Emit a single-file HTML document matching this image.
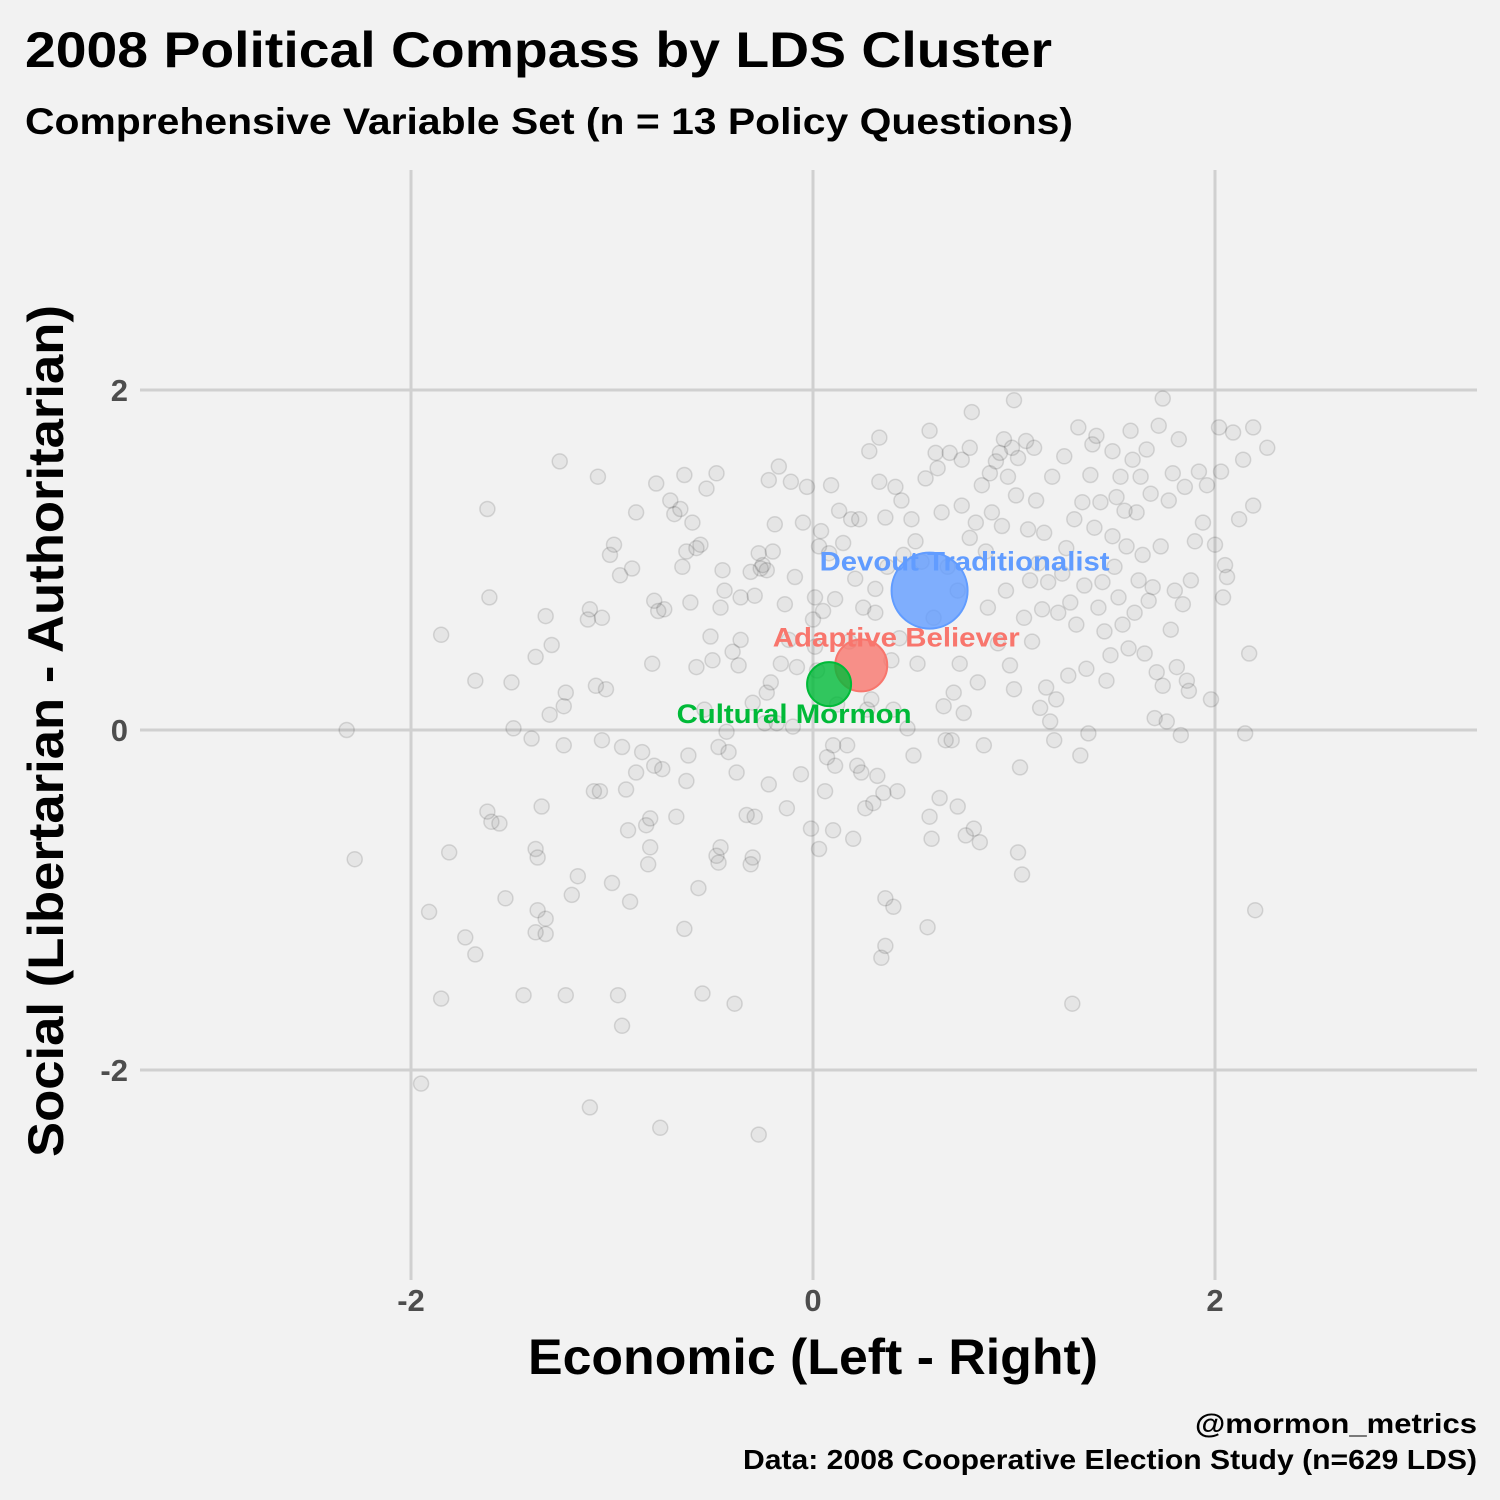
<!DOCTYPE html>
<html><head><meta charset="utf-8"><style>
html,body{margin:0;padding:0;background:#f2f2f2;}
svg{display:block;}
text{font-family:"Liberation Sans",sans-serif;}
</style></head><body>
<svg id="chart" width="1500" height="1500" viewBox="0 0 1500 1500">
<rect x="0" y="0" width="1500" height="1500" fill="#f2f2f2"/>
<text x="25" y="67" font-size="50" font-weight="bold" fill="#000" textLength="1027" lengthAdjust="spacingAndGlyphs">2008 Political Compass by LDS Cluster</text>
<text x="25" y="134" font-size="37" font-weight="bold" fill="#000" textLength="1048" lengthAdjust="spacingAndGlyphs">Comprehensive Variable Set (n = 13 Policy Questions)</text>
<g id="grid"></g>
<g id="ticks"></g>
<g id="points"></g>
<g id="clusters"></g>
<text x="813" y="1374" font-size="50" font-weight="bold" fill="#000" text-anchor="middle" textLength="570" lengthAdjust="spacingAndGlyphs">Economic (Left - Right)</text>
<text transform="translate(63,731) rotate(-90)" font-size="50" font-weight="bold" fill="#000" text-anchor="middle" textLength="852" lengthAdjust="spacingAndGlyphs">Social (Libertarian - Authoritarian)</text>
<text x="1477" y="1433" font-size="28" font-weight="bold" fill="#000" text-anchor="end" textLength="282" lengthAdjust="spacingAndGlyphs">@mormon_metrics</text>
<text x="1477" y="1469" font-size="28" font-weight="bold" fill="#000" text-anchor="end" textLength="734" lengthAdjust="spacingAndGlyphs">Data: 2008 Cooperative Election Study (n=629 LDS)</text>
</svg>
<script>
const xTicks = [-2, 0, 2];
const yTicks = [-2, 0, 2];
const clusterNames = ["Devout Traditionalist", "Adaptive Believer", "Cultural Mormon"];
const clusterX = [0.58, 0.24, 0.08];
const clusterY = [0.82, 0.38, 0.27];
const clusterSize = [38, 26, 22];
const clusterColors = ["#619CFF", "#F8766D", "#00BA38"];
const pointX = [-2.32,-2.28,-1.95,-1.91,-1.85,-1.85,-1.81,-1.73,-1.68,-1.68,-1.62,-1.61,-1.62,-1.60,-1.56,-1.53,-1.50,-1.49,-1.44,-1.40,-1.38,-1.38,-1.37,-1.37,-1.38,-1.35,-1.33,-1.33,-1.33,-1.31,-1.30,-1.26,-1.24,-1.24,-1.23,-1.23,-1.20,-1.17,-1.12,-1.11,-1.11,-1.09,-1.07,-1.06,-1.05,-1.08,-1.05,-1.03,-1.01,-0.99,-1.00,-0.97,-0.96,-0.95,-0.95,-0.93,-0.92,-0.91,-0.90,-0.88,-0.88,-0.85,-0.83,-0.82,-0.81,-0.81,-0.79,-0.79,-0.80,-0.78,-0.77,-0.76,-0.75,-0.74,-0.71,-0.69,-0.68,-0.66,-0.64,-0.64,-0.65,-0.63,-0.62,-0.63,-0.61,-0.60,-0.58,-0.58,-0.57,-0.56,-0.55,-0.54,-0.53,-0.51,-0.50,-0.48,-0.47,-0.48,-0.47,-0.46,-0.46,-0.45,-0.44,-0.43,-0.42,-0.40,-0.39,-0.38,-0.37,-0.36,-0.36,-0.33,-0.31,-0.30,-0.31,-0.30,-0.29,-0.29,-0.27,-0.27,-0.26,-0.25,-0.24,-0.23,-0.23,-0.22,-0.22,-0.21,-0.20,-0.19,-0.18,-0.17,-0.16,-0.14,-0.13,-0.12,-0.11,-0.10,-0.09,-0.08,-0.06,-0.05,-0.03,-0.01,0.00,0.01,0.01,0.02,0.03,0.03,0.04,0.05,0.06,0.07,0.08,0.09,0.10,0.10,0.11,0.11,0.12,0.13,0.15,0.17,0.18,0.19,0.20,0.21,0.22,0.23,0.24,0.25,0.26,0.27,0.28,0.29,0.30,0.31,0.31,0.32,0.33,0.33,0.34,0.35,0.36,0.36,0.36,0.37,0.39,0.40,0.40,0.41,0.42,0.43,0.44,0.45,0.47,0.49,0.50,0.51,0.52,0.54,0.56,0.57,0.58,0.58,0.59,0.60,0.61,0.62,0.63,0.64,0.65,0.66,0.67,0.68,0.69,0.70,0.72,0.72,0.73,0.74,0.74,0.75,0.76,0.78,0.78,0.79,0.80,0.81,0.82,0.83,0.84,0.85,0.86,0.87,0.88,0.89,0.91,0.92,0.93,0.94,0.95,0.96,0.97,0.98,0.99,1.00,1.00,1.01,1.02,1.02,1.03,1.04,1.05,1.06,1.07,1.08,1.09,1.10,1.11,1.12,1.13,1.14,1.15,1.16,1.17,1.18,1.19,1.20,1.21,1.22,1.24,1.25,1.26,1.27,1.28,1.29,1.30,1.31,1.32,1.33,1.34,1.35,1.36,1.37,1.38,1.39,1.40,1.41,1.42,1.43,1.44,1.45,1.46,1.48,1.49,1.49,1.50,1.51,1.52,1.53,1.54,1.55,1.56,1.57,1.58,1.59,1.60,1.61,1.62,1.63,1.64,1.65,1.66,1.67,1.68,1.69,1.70,1.71,1.72,1.73,1.74,1.74,1.76,1.77,1.78,1.79,1.80,1.81,1.82,1.83,1.84,1.85,1.86,1.87,1.88,1.90,1.92,1.94,1.96,1.98,2.00,2.02,2.03,2.04,2.05,2.06,2.09,2.12,2.14,2.15,2.17,2.19,2.19,2.20,2.26];
const pointY = [0.00,-0.76,-2.08,-1.07,-1.58,0.56,-0.72,-1.22,-1.32,0.29,1.30,0.78,-0.48,-0.54,-0.55,-0.99,0.28,0.01,-1.56,-0.05,0.43,-0.70,-0.75,-1.06,-1.19,-0.45,0.67,-1.20,-1.11,0.09,0.50,1.58,0.14,-0.09,0.22,-1.56,-0.97,-0.86,0.65,0.71,-2.22,-0.36,1.49,-0.36,0.66,0.26,-0.06,0.24,1.03,1.09,-0.90,-1.56,0.91,-1.74,-0.10,-0.35,-0.59,-1.01,0.95,1.28,-0.25,-0.13,-0.56,-0.79,-0.69,-0.52,-0.21,0.76,0.39,1.45,0.70,-2.34,-0.23,0.71,1.35,1.27,-0.51,1.30,-1.17,1.50,0.96,1.05,-0.15,-0.30,0.75,1.22,1.07,0.37,-0.93,1.09,-1.55,0.12,1.42,0.55,0.41,1.51,-0.78,-0.74,-0.10,-0.69,0.72,0.94,0.82,-0.01,-0.13,0.46,-1.61,-0.25,0.38,0.78,0.53,-0.50,-0.79,-0.75,0.93,0.16,-0.51,0.79,-2.38,1.04,0.95,0.97,0.04,0.22,0.94,-0.32,1.47,0.28,1.05,1.21,0.04,1.55,0.39,0.74,-0.46,0.53,1.46,0.02,0.90,0.37,-0.26,1.22,1.43,-0.58,0.65,0.49,0.78,0.35,-0.70,1.08,1.17,0.70,-0.36,-0.16,1.04,1.44,-0.59,-0.09,-0.21,0.77,0.15,1.29,1.10,-0.09,0.52,1.24,-0.64,0.89,-0.21,1.24,-0.25,0.72,-0.46,0.12,1.64,0.18,-0.43,0.83,0.69,-0.27,1.72,1.46,-1.34,-0.37,1.25,-0.99,-1.27,0.96,0.41,-1.04,0.12,1.43,-0.36,0.54,1.35,1.03,0.01,1.24,-0.15,1.11,0.39,0.99,1.48,-1.16,-0.51,1.76,-0.64,0.66,1.63,1.54,-0.40,1.28,0.14,-0.06,0.96,1.63,-0.06,0.22,-0.45,0.82,0.39,1.32,1.59,0.10,-0.62,1.66,1.13,1.87,-0.58,1.22,0.28,-0.66,1.44,-0.09,1.05,0.72,1.51,1.28,1.58,0.51,1.63,1.20,1.71,0.82,1.49,0.38,1.66,0.24,1.94,1.38,-0.72,1.60,-0.22,-0.85,0.66,1.70,1.18,0.88,0.52,1.66,1.35,0.98,0.13,0.71,1.16,0.25,0.87,0.05,1.49,-0.06,0.18,0.69,0.92,1.61,1.07,0.32,0.75,-1.61,1.24,0.62,1.78,-0.15,1.34,0.85,0.36,-0.02,1.50,1.68,1.19,1.73,0.72,1.34,0.87,0.58,0.29,0.44,1.64,1.14,0.96,1.37,0.78,1.49,0.62,1.29,1.08,0.48,1.76,1.59,0.69,1.28,0.88,1.49,1.03,0.45,1.65,0.76,1.39,0.84,0.07,0.34,1.79,1.08,0.26,1.95,0.05,1.35,0.59,1.51,0.82,0.37,1.71,-0.03,0.74,1.43,0.29,0.23,0.88,1.11,1.52,1.22,1.44,0.18,1.09,1.78,1.52,0.78,0.97,0.90,1.75,1.24,1.59,-0.02,0.45,1.78,1.32,-1.06,1.66];

const NS = "http://www.w3.org/2000/svg";
const L = 140, R = 1477, T = 170, B = 1280;
function sx(v){ return 813 + v * 201; }
function sy(v){ return 730 - v * 170; }
function mk(tag, attrs, parent){ const e = document.createElementNS(NS, tag); for (const k in attrs) e.setAttribute(k, attrs[k]); parent.appendChild(e); return e; }

const grid = document.getElementById('grid');
const ticks = document.getElementById('ticks');
xTicks.forEach(function(t){
  const ln = mk('line', {x1: sx(t), x2: sx(t), y1: T, y2: B, stroke: '#d0d0d0', 'stroke-width': 3}, grid);
  
  
  const tx = mk('text', {x: sx(t), y: 1311, 'font-size': 31, 'font-weight': 'bold', fill: '#4d4d4d', 'text-anchor': 'middle'}, ticks);
  tx.textContent = t;
  
  
});
yTicks.forEach(function(t){
  const ln = mk('line', {x1: L, x2: R, y1: sy(t), y2: sy(t), stroke: '#d0d0d0', 'stroke-width': 3}, grid);
  
  
  const tx = mk('text', {x: 128, y: sy(t) + 11, 'font-size': 31, 'font-weight': 'bold', fill: '#4d4d4d', 'text-anchor': 'end'}, ticks);
  tx.textContent = t;
  
  
});

const pts = document.getElementById('points');
for (let i = 0; i < pointX.length; i++) {
  const c = mk('circle', {cx: sx(pointX[i]), cy: sy(pointY[i]), r: 7.5, fill: 'rgba(0,0,0,0.05)', stroke: 'rgba(0,0,0,0.12)', 'stroke-width': 1.5}, pts);
  
  
}

const cl = document.getElementById('clusters');
const labelOffsets = [[35, -20], [35, -19], [-35, 39]];
const labelWidths = [290, 247, 235];
for (let i = 0; i < clusterNames.length; i++) {
  const t = mk('text', {x: sx(clusterX[i]) + labelOffsets[i][0], y: sy(clusterY[i]) + labelOffsets[i][1], 'font-size': 27, 'font-weight': 'bold', fill: clusterColors[i], 'text-anchor': 'middle', textLength: labelWidths[i], lengthAdjust: 'spacingAndGlyphs'}, cl);
  t.textContent = clusterNames[i];
  
  
}
for (let i = 0; i < clusterNames.length; i++) {
  const c = mk('circle', {cx: sx(clusterX[i]), cy: sy(clusterY[i]), r: clusterSize[i], fill: clusterColors[i], 'fill-opacity': 0.8, stroke: clusterColors[i], 'stroke-width': 2}, cl);
  
  
}
</script>
</body></html>
